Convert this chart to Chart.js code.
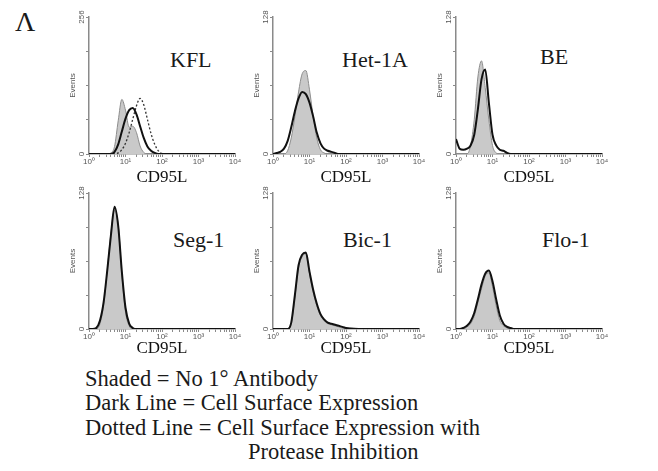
<!DOCTYPE html>
<html>
<head>
<meta charset="utf-8">
<script src="https://cdn.jsdelivr.net/npm/chart.js@4.4.0/dist/chart.umd.min.js"></script>
<style>
  body { margin: 0; background: #fff; }
  #wrap { position: relative; width: 658px; height: 471px; overflow: hidden;
          font-family: "Liberation Serif", "Times New Roman", serif; color: #1a1a1a; }
  canvas { position: absolute; }
  .lbl { position: absolute; font-size: 22px; line-height: 22px; white-space: nowrap; }
  #legend { position: absolute; left: 85px; top: 367px; font-size: 22.5px; line-height: 24.4px; white-space: nowrap; }
</style>
</head>
<body>
<div id="wrap">
  <div class="lbl" style="left:15px;top:8px;font-size:28px;line-height:28px">Λ</div>
  <div class="lbl" style="left:170px;top:49px">KFL</div>
  <div class="lbl" style="left:342px;top:49px">Het-1A</div>
  <div class="lbl" style="left:540px;top:46px">BE</div>
  <div class="lbl" style="left:173px;top:229px">Seg-1</div>
  <div class="lbl" style="left:343px;top:229px">Bic-1</div>
  <div class="lbl" style="left:542px;top:229px">Flo-1</div>
  <div id="legend">
    Shaded = No 1° Antibody<br>
    Dark Line = Cell Surface Expression<br>
    Dotted Line = Cell Surface Expression with<br>
    <span style="padding-left:163px">Protease Inhibition</span>
  </div>
</div>
<script>
// fluorescence channels (log spaced, 10^0 .. 10^4)
const channels = [1, 1.26, 1.58, 2.0, 2.51, 3.16, 3.98, 5.01, 6.31, 7.94, 10, 12.6, 15.8, 20.0, 25.1,
                  31.6, 39.8, 50.1, 63.1, 79.4, 100, 316, 1000, 3162, 10000];

// event counts per channel
const kflShaded   = [0,0,0,0,0,0,2,14,62,102,82,50,52,40,15,3,0,0,0,0,0,0,0,0,0];
const kflDark     = [0,0,0,0,0,0,0,4,18,42,66,82,86,74,52,30,14,6,2,0,0,0,0,0,0];
const kflDotted   = [0,0,0,0,0,0,0,0,2,8,20,40,65,90,104,92,65,38,18,6,1,0,0,0,0];
const het1aShaded = [0,0,0,0,3,15,35,58,75,78,60,35,15,4,1,0,0,0,0,0,0,0,0,0,0];
const het1aDark   = [0,1,2,5,12,25,40,52,58,56,48,35,20,10,5,3,2,1,0,0,0,0,0,0,0];
const beShaded    = [0,0,0,0,8,32,72,87,62,32,8,1,0,0,0,0,0,0,0,0,0,0,0,0,0];
const beDark      = [14,5,4,5,8,18,42,70,79,48,18,8,4,3,1,0,0,0,0,0,0,0,0,0,0];
const seg1Shaded  = [0,0,0,5,22,55,90,112,98,52,16,3,0,0,0,0,0,0,0,0,0,0,0,0,0];
const seg1Dark    = [0,0,1,8,25,55,88,115,97,54,20,5,1,0,0,0,0,0,0,0,0,0,0,0,0];
const bic1Shaded  = [0,0,0,0,0,5,30,58,68,71,52,35,22,13,8,5,4,3,2,1,1,0,0,0,0];
const bic1Dark    = [0,0,0,0,0,6,32,60,70,72,54,37,24,14,9,6,5,4,3,2,1,0,0,0,0];
const flo1Shaded  = [0,0,0,2,5,12,25,38,50,53,40,22,8,3,1,0,0,0,0,0,0,0,0,0,0];
const flo1Dark    = [0,0,1,3,7,15,28,42,52,55,45,28,13,5,2,1,0,0,0,0,0,0,0,0,0];

const yMaxes = [256, 128, 128, 128, 128, 128];
const decades = [1, 10, 100, 1000, 10000];
const decadeLabels = ['10\u2070', '10\u00b9', '10\u00b2', '10\u00b3', '10\u2074'];

const panels = [
  { left: 63,  top: 7,   h: 182, shaded: kflShaded,   dark: kflDark, dotted: kflDotted },
  { left: 247, top: 7,   h: 182, shaded: het1aShaded, dark: het1aDark },
  { left: 430, top: 7,   h: 182, shaded: beShaded,    dark: beDark },
  { left: 63,  top: 183, h: 177, shaded: seg1Shaded,  dark: seg1Dark },
  { left: 247, top: 183, h: 177, shaded: bic1Shaded,  dark: bic1Dark },
  { left: 430, top: 183, h: 177, shaded: flo1Shaded,  dark: flo1Dark }
];

const axisColor = '#8a8a8a';
const tickFont = { family: "'Liberation Sans', Arial, sans-serif", size: 8 };
const titleFont = { family: "'Liberation Serif', 'Times New Roman', serif", size: 17 };

function pts(counts) {
  return channels.map((x, i) => ({ x: x, y: counts[i] }));
}

panels.forEach((p, n) => {
  const cv = document.createElement('canvas');
  cv.width = 182;
  cv.height = p.h;
  cv.style.left = p.left + 'px';
  cv.style.top = p.top + 'px';
  document.getElementById('wrap').appendChild(cv);

  const yMax = yMaxes[n];
  const hx = p.h - 10 - (n < 3 ? 137 : 136);

  const datasets = [
    { data: pts(p.dark), borderColor: '#111', borderWidth: 2, fill: false, order: 1 },
    { data: pts(p.shaded), borderColor: '#8d8d8d', borderWidth: 1, backgroundColor: '#c9c9c9', fill: 'origin', order: 3 }
  ];
  if (p.dotted) {
    datasets.push({ data: pts(p.dotted), borderColor: '#333', borderWidth: 1.3, borderDash: [2, 2], fill: false, order: 2 });
  }

  new Chart(cv, {
    type: 'line',
    data: { datasets: datasets },
    options: {
      responsive: false,
      animation: false,
      layout: { padding: { top: 10, right: 10, left: 0, bottom: 0 } },
      elements: { point: { radius: 0 }, line: { cubicInterpolationMode: 'monotone' } },
      plugins: { legend: { display: false }, tooltip: { enabled: false } },
      scales: {
        x: {
          type: 'logarithmic', min: 1, max: 10000,
          afterBuildTicks: s => {
            const t = [];
            decades.slice(0, 4).forEach(d => { for (let k = 1; k < 10; k++) t.push({ value: d * k }); });
            t.push({ value: 10000 });
            s.ticks = t;
          },
          afterFit: s => { s.height = hx; },
          ticks: {
            autoSkip: false, maxRotation: 0, minRotation: 0, padding: 0, font: tickFont, color: '#555',
            callback: v => { const i = decades.indexOf(v); return i >= 0 ? decadeLabels[i] : ''; }
          },
          grid: { drawOnChartArea: false, drawTicks: true, tickLength: 3, color: axisColor },
          border: { color: axisColor, width: 1.5 },
          title: { display: true, text: 'CD95L', color: '#111', font: titleFont, padding: { top: 0, bottom: 1 } }
        },
        y: {
          min: 0, max: yMax,
          ticks: {
            stepSize: yMax / 4, minRotation: 90, maxRotation: 90, crossAlign: 'center', padding: -2,
            font: tickFont, color: '#555',
            callback: v => (v === 0 || v === yMax) ? String(v) : ''
          },
          afterFit: s => { s.width = 26; },
          grid: { drawOnChartArea: false, drawTicks: true, tickLength: 3, color: axisColor },
          border: { color: axisColor, width: 1.5 },
          title: { display: true, text: 'Events', color: '#555', font: tickFont, padding: { top: 5, bottom: 0 } }
        }
      }
    }
  });
});
</script>
</body>
</html>
